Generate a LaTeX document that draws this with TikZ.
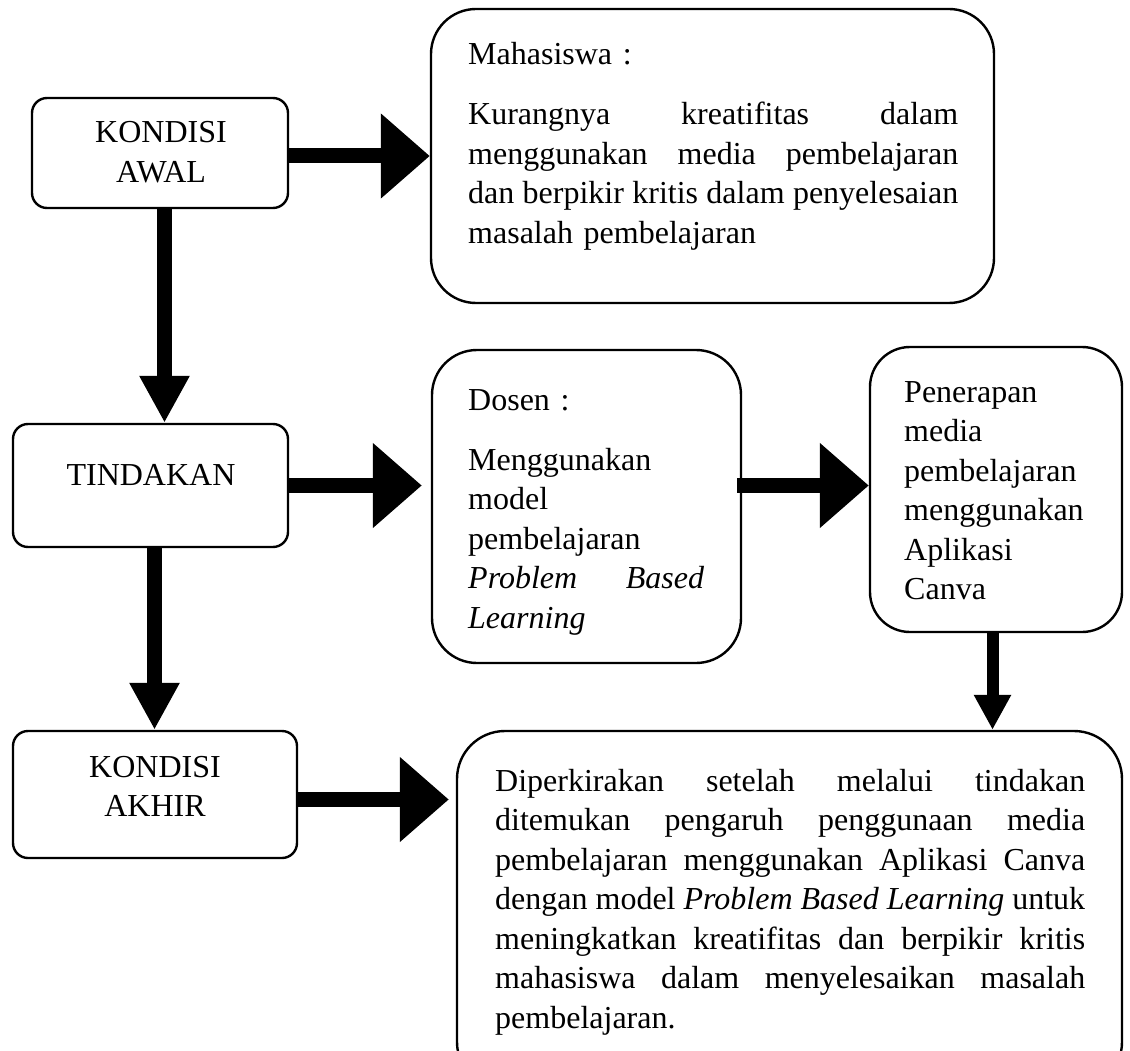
\documentclass[tikz,border=0pt]{standalone}
\usepackage{fontspec}
\setmainfont{Liberation Serif}
\usetikzlibrary{arrows.meta}
\newcommand\jline[2]{{\spaceskip=0pt\xspaceskip=0pt\makebox[#1][s]{#2}}}
\begin{document}
\begin{tikzpicture}[x=1pt,y=-1pt,
  box/.style={draw, line width=2.4pt, rounded corners=#1, inner sep=0pt},
  box/.default=15pt,
  txt/.style={inner sep=0pt, anchor=base west, align=left, font=\fontsize{32}{39.5}\selectfont},
  ctxt/.style={inner sep=0pt, anchor=base, text width=220pt, align=center, font=\fontsize{32}{39.5}\selectfont},
  harrow/.style={line width=15pt, -{Triangle[length=49pt,width=82pt]}},
  varrow/.style={line width=15pt, -{Triangle[length=47pt,width=47pt]}},
  sarrow/.style={line width=12pt, -{Triangle[length=35pt,width=35pt]}}
]
\clip (0,0) rectangle (1130,1051);
\fill[white] (0,0) rectangle (1130,1051);

% boxes
\node[box, minimum width=256pt, minimum height=110pt] (awal) at (160,153) {};
\node[box, minimum width=275pt, minimum height=123pt] (tind) at (150.5,485.5) {};
\node[box, minimum width=284pt, minimum height=127pt] (akhir) at (155,794.5) {};
\node[box=45pt, minimum width=563pt, minimum height=294pt] (maha) at (712.5,156) {};
\node[box=45pt, minimum width=309pt, minimum height=313pt] (dosen) at (586.5,506.5) {};
\node[box=40pt, minimum width=252pt, minimum height=285pt] (pen) at (996,489.5) {};
\node[box=48pt, minimum width=665pt, minimum height=359pt] (hasil) at (789.5,910.5) {};

% texts
\node[ctxt] (awalt) at (161,143) {KONDISI\\AWAL};
\node[ctxt] (tindt) at (151,485) {TINDAKAN};
\node[ctxt] (akhirt) at (155,777) {KONDISI\\AKHIR};

\node[txt, text width=490pt] (mahat) at (468,65) {Mahasiswa :\\[20.5pt]
\jline{490pt}{Kurangnya kreatifitas dalam}\\
\jline{490pt}{menggunakan media pembelajaran}\\
\jline{490pt}{dan berpikir kritis dalam penyelesaian}\\
masalah pembelajaran};

\node[txt, text width=236pt] (dosent) at (468,410) {Dosen :\\[20.5pt]
Menggunakan\\
model\\
pembelajaran\\
\jline{236pt}{\textit{Problem Based}}\\
\textit{Learning}};

\node[txt, text width=200pt] (pent) at (904,402) {Penerapan\\
media\\
pembelajaran\\
menggunakan\\
Aplikasi\\
Canva};

\node[txt, text width=592pt] (hasilt) at (495,791) {%
\jline{590pt}{Diperkirakan setelah melalui tindakan}\\
\jline{590pt}{ditemukan pengaruh penggunaan media}\\
\jline{590pt}{pembelajaran menggunakan Aplikasi Canva}\\
\jline{590pt}{dengan model \textit{Problem Based Learning} untuk}\\
\jline{590pt}{meningkatkan kreatifitas dan berpikir kritis}\\
\jline{590pt}{mahasiswa dalam menyelesaikan masalah}\\
pembelajaran.};

% connectors
\draw[harrow] (maha.west -| awal.east) -- (maha.west);
\draw[harrow, shorten >=9pt] (tind.east) -- (tind.east -| dosen.west);
\draw[harrow] ([xshift=-5pt]dosen.east |- tind.east) -- (tind.east -| pen.west);
\draw[harrow, shorten >=7pt] ([yshift=-5pt]akhir.east) -- ([yshift=-5pt]akhir.east -| hasil.west);
\draw[varrow] ([xshift=4.5pt]awal.south) -- ([xshift=4.5pt]awal.south |- tind.north);
\draw[varrow] ([xshift=4pt]tind.south) -- ([xshift=4pt]tind.south |- akhir.north);
\draw[sarrow] ([xshift=-3.5pt]pen.south) -- ([xshift=-3.5pt]pen.south |- hasil.north);
\end{tikzpicture}
\end{document}
